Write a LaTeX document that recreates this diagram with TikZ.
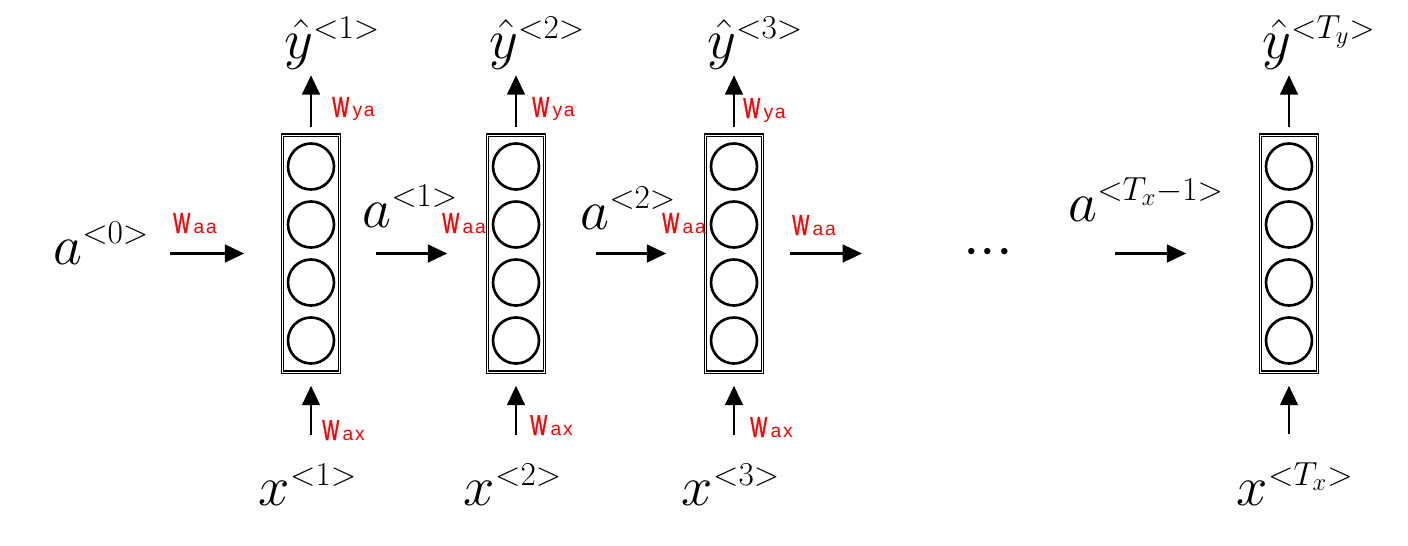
\RequirePackage{fix-cm}
\documentclass[tikz,border=0pt]{standalone}
\usepackage{amsmath}
\usepackage{fontspec}
\usetikzlibrary{arrows.meta, calc}

\newfontfamily\wfont[FakeStretch=0.62, FakeBold=1.2]{Liberation Sans}
\newfontfamily\wsubfont[LetterSpace=8]{Liberation Sans}
\DeclareMathSizes{32}{32}{19}{14}
\newcommand{\wlbl}[1]{{\wfont\fontsize{16.4}{17}\selectfont W\kern2pt\wsubfont\fontsize{11}{12}\selectfont #1}}

\begin{document}
\begin{tikzpicture}[
        cell/.style={draw, double, double distance=0.45pt, line width=0.85pt, minimum width=1.14cm, minimum height=4.74cm, inner sep=0pt},
        unit/.style={draw, circle, line width=1.5pt, minimum size=0.92cm, inner sep=0pt},
        mlabel/.style={inner sep=0pt, font=\fontsize{32}{38}\selectfont},
        wlabel/.style={inner sep=0pt, text=red, anchor=base west},
        arrow/.style={-{Triangle[length=11pt, width=10pt]}, line width=1.5pt}
    ]
        \useasboundingbox (0,0) rectangle (28.16,10.9);

        % --- RNN cells ---
        \foreach \c/\x in {1/6.22, 2/10.32, 3/14.68, 4/25.78}
            \node[cell] (cell\c) at (\x, 5.83) {};

        % --- hidden units in each cell ---
        \foreach \c in {1,...,4}
            \foreach \k/\dy in {1/1.74, 2/0.58, 3/-0.58, 4/-1.74}
                \node[unit] (u\c\k) at ($(cell\c)+(0,\dy)$) {};

        % --- outputs y-hat ---
        \foreach \c/\lab in {1/1, 2/2, 3/3, 4/T_y} {
            \node[mlabel, anchor=south west] (yh\c) at ($(cell\c.north)+(-0.54,1.28)$) {$\hat{y}^{<\lab>}$};
            \draw[arrow, shorten <=0.14cm, shorten >=0.1cm] (cell\c.north) -- (cell\c.north |- yh\c.south);
        }

        % --- inputs x ---
        \foreach \c/\lab in {1/1, 2/2, 3/3, 4/T_x} {
            \node[mlabel, anchor=base west] (x\c) at ($(cell\c.south)+(-1.05,-2.66)$) {$x^{<\lab>}$};
            \draw[arrow, shorten <=0.56cm, shorten >=0.26cm] (cell\c.south |- x\c.north) -- (cell\c.south);
        }

        % --- activations passed along ---
        \node[mlabel, anchor=base west] (a0) at (1.06, 5.62) {$a^{<0>}$};
        \node[mlabel, anchor=base west] (a1) at (7.24, 6.36) {$a^{<1>}$};
        \node[mlabel, anchor=base west] (a2) at (11.6, 6.32) {$a^{<2>}$};
        \node[mlabel, anchor=base west] (a3) at (21.36, 6.48) {$a^{<T_x-1>}$};
        \node[mlabel, font=\fontsize{34}{38}\selectfont] (dots) at (19.76, 5.84) {${\cdot}{\cdot}{\cdot}$};
        \coordinate (h3) at (17.24, 5.83);
        \coordinate (h4) at (22.3, 5.83);

        \draw[arrow, shorten <=0.4cm, shorten >=0.75cm] (a0.east |- cell1.west) -- (cell1.west);
        \draw[arrow, shorten <=0.71cm, shorten >=0.79cm] (cell1.east) -- (cell2.west);
        \draw[arrow, shorten <=1.01cm, shorten >=0.77cm] (cell2.east) -- (cell3.west);
        \draw[arrow, shorten <=0.53cm] (cell3.east) -- (h3);
        \draw[arrow, shorten >=1.47cm] (h4) -- (cell4.west);

        % --- weight labels ---
        \foreach \x/\y [count=\i] in {3.46/6.24, 8.84/6.24, 13.24/6.24, 15.84/6.2}
            \node[wlabel] (waa\i) at (\x, \y) {\wlbl{aa}};
        \foreach \x/\y [count=\i] in {6.64/8.56, 10.64/8.56, 14.86/8.54}
            \node[wlabel] (wya\i) at (\x, \y) {\wlbl{ya}};
        \foreach \x/\y [count=\i] in {6.44/2.1, 10.6/2.2, 15.0/2.16}
            \node[wlabel] (wax\i) at (\x, \y) {\wlbl{ax}};

    \end{tikzpicture}
\end{document}
